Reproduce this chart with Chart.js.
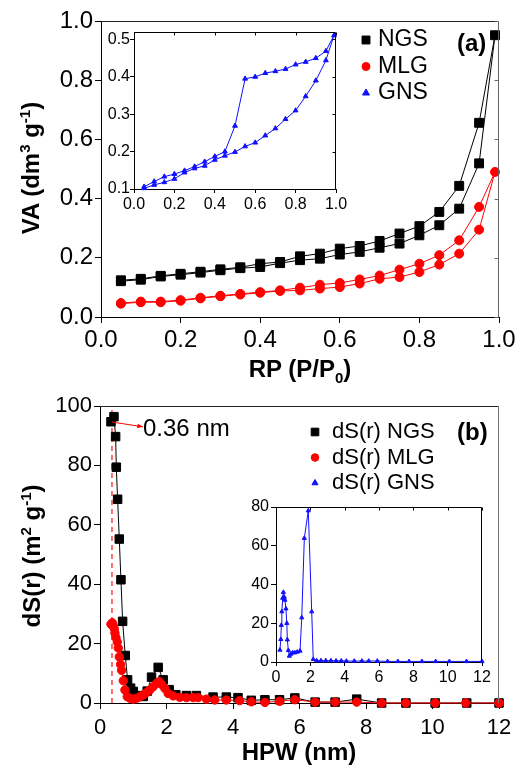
<!DOCTYPE html>
<html>
<head>
<meta charset="utf-8">
<script src="https://cdn.jsdelivr.net/npm/chart.js@4.4.0/dist/chart.umd.min.js"></script>
<style>
  body { margin: 0; background: #fff; }
  #wrap { position: relative; width: 524px; height: 767px; font-family: "Liberation Sans", Arial, sans-serif; }
  canvas { position: absolute; }
  .lbl { position: absolute; white-space: nowrap; color: #000; line-height: 1; transform: translate(0, -50%); }
  .title { font-weight: bold; font-size: 24px; transform: translate(-50%, -50%); }
  .rot { transform: translate(-50%, -50%) rotate(-90deg); }
  sup, sub { font-size: 15px; line-height: 0; }
</style>
</head>
<body>
<div id="wrap">
  <canvas id="cA" width="524" height="390" style="left:0;top:0;width:524px;height:390px"></canvas>
  <canvas id="cAi" width="260" height="203" style="left:95px;top:12px;width:260px;height:203px"></canvas>
  <canvas id="cB" width="524" height="377" style="left:0;top:390px;width:524px;height:377px"></canvas>
  <canvas id="cBi" width="260" height="200" style="left:240px;top:485px;width:260px;height:200px"></canvas>

  <div class="lbl title rot" style="left:31px;top:168px">VA (dm<sup>3</sup> g<sup>-1</sup>)</div>
  <div class="lbl title" style="left:300px;top:369px">RP (P/P<sub>0</sub>)</div>
  <div class="lbl" style="left:457px;top:43px;font-size:24px;font-weight:bold">(a)</div>

  <div class="lbl title rot" style="left:32px;top:556px">dS(r) (m<sup>2</sup> g<sup>-1</sup>)</div>
  <div class="lbl title" style="left:299px;top:752px">HPW (nm)</div>
  <div class="lbl" style="left:457px;top:432px;font-size:24px;font-weight:bold">(b)</div>
  <div class="lbl" style="left:143px;top:428px;font-size:24px">0.36 nm</div>
</div>
<script>
const FONT = '"Liberation Sans", Arial, sans-serif';

// (a) isotherms: relative pressure and volume adsorbed (adsorption / desorption branches)
const rp = [0.05, 0.1, 0.15, 0.2, 0.25, 0.3, 0.35, 0.4, 0.45, 0.5, 0.55, 0.6, 0.65, 0.7, 0.75, 0.8, 0.85, 0.9, 0.95, 0.99];
const ngsAds = [0.121, 0.126, 0.137, 0.143, 0.150, 0.158, 0.165, 0.169, 0.182, 0.192, 0.197, 0.211, 0.220, 0.234, 0.248, 0.276, 0.310, 0.366, 0.519, 0.952];
const ngsDes = [0.124, 0.129, 0.139, 0.146, 0.153, 0.161, 0.168, 0.180, 0.186, 0.205, 0.214, 0.231, 0.240, 0.257, 0.282, 0.307, 0.355, 0.443, 0.656, 0.952];
const mlgAds = [0.045, 0.050, 0.050, 0.055, 0.063, 0.070, 0.076, 0.082, 0.088, 0.090, 0.096, 0.101, 0.113, 0.129, 0.135, 0.152, 0.177, 0.214, 0.295, 0.490];
const mlgDes = [0.047, 0.052, 0.052, 0.057, 0.065, 0.072, 0.078, 0.084, 0.090, 0.099, 0.109, 0.115, 0.127, 0.140, 0.160, 0.180, 0.209, 0.259, 0.372, 0.490];
const gnsAds = [0.102, 0.111, 0.118, 0.127, 0.144, 0.155, 0.162, 0.178, 0.189, 0.199, 0.214, 0.224, 0.243, 0.262, 0.287, 0.310, 0.348, 0.390, 0.444, 0.511];
const gnsDes = [0.106, 0.120, 0.133, 0.140, 0.149, 0.160, 0.173, 0.187, 0.200, 0.269, 0.395, 0.400, 0.410, 0.415, 0.421, 0.433, 0.440, 0.450, 0.469, 0.511];

// (b) pore size distributions
const hpwNgs = [0.33, 0.42, 0.47, 0.49, 0.53, 0.58, 0.63, 0.68, 0.76, 0.83, 0.92, 1.0, 1.15, 1.3, 1.42, 1.55, 1.75, 1.9, 2.08, 2.28, 2.6, 2.9, 3.4, 3.8, 4.15, 4.55, 4.96, 5.4, 5.86, 6.47, 7.07, 7.72, 8.47, 9.2, 10.08, 11.03, 12.0];
const dsNgs = [94.7, 96.4, 89.7, 79.4, 68.6, 55.2, 41.5, 27.5, 16.0, 7.8, 5.0, 3.9, 2.5, 2.2, 4.0, 8.7, 12.0, 7.8, 4.5, 2.8, 2.5, 2.5, 2.0, 2.0, 1.8, 0.9, 1.1, 1.1, 1.7, 0.3, 0.3, 1.3, 0, 0, 0, 0, 0];
const hpwMlg = [0.33, 0.37, 0.40, 0.43, 0.45, 0.48, 0.52, 0.55, 0.58, 0.62, 0.65, 0.70, 0.75, 0.82, 0.90, 1.0, 1.1, 1.2, 1.3, 1.4, 1.5, 1.6, 1.7, 1.78, 1.85, 1.95, 2.05, 2.2, 2.4, 2.6, 2.8, 2.95, 3.2, 3.45, 3.8, 4.2, 4.55, 4.96, 5.4, 5.86, 6.47, 7.07, 7.72, 8.47, 9.2, 10.08, 11.0, 12.0];
const dsMlg = [26.5, 27, 26, 25, 23.5, 22, 20.5, 18.5, 15.5, 13, 11, 7.5, 4.4, 2.1, 1.6, 1.3, 1.6, 2.1, 2.7, 3.5, 4.4, 5.5, 6.6, 7.2, 6.3, 4.9, 3.2, 2.4, 1.9, 1.8, 1.8, 1.8, 1.3, 1.0, 1.0, 0.8, 0.4, 0.2, 0.6, 1.1, 0.3, 0.3, 0.3, 0, 0, 0, 0, 0];
const hpwGns = [0.23, 0.28, 0.31, 0.34, 0.39, 0.43, 0.48, 0.52, 0.58, 0.63, 0.66, 0.72, 0.78, 0.86, 0.97, 1.1, 1.24, 1.4, 1.5, 1.65, 1.88, 2.08, 2.17, 2.37, 2.62, 2.9, 3.2, 3.5, 3.8, 4.1, 4.56, 5.0, 5.4, 5.9, 6.5, 7.1, 7.75, 8.5, 9.3, 10.1, 11.1, 12.0];
const dsGns = [6.2, 11.7, 19, 26, 33, 36, 33.5, 32, 27.5, 20, 11.5, 6, 3.1, 4.1, 4.8, 4.8, 5.2, 5.7, 22.9, 63.9, 78.1, 26, 1.4, 0.7, 0.7, 0.7, 0.7, 0.6, 0.6, 0.5, 0.5, 0.5, 0.5, 0.5, 0.3, 0.3, 0.3, 0.3, 0.3, 0.3, 0.3, 0.3];

// annotation in (b): most probable pore width
const peakWidth = 0.36;
const arrowFrom = [0.36, 94.6];
const arrowTo = [1.29, 93.0];

function loop(xs, up, down) {
  const pts = xs.map((x, i) => ({ x: x, y: up[i] }));
  for (let i = xs.length - 2; i >= 0; i--) pts.push({ x: xs[i], y: down[i] });
  return pts;
}
function pairs(xs, ys) {
  return xs.map((x, i) => ({ x: x, y: ys[i] }));
}

function series(label, pts, color, style, r, order) {
  return {
    label: label, data: pts, showLine: true,
    borderColor: color, backgroundColor: color, borderWidth: 1,
    pointStyle: style, pointRadius: r, pointHoverRadius: r, pointBorderWidth: 1,
    clip: false, order: order || 0
  };
}

function axis(min, max, step, size, tickLen, pad, dec, fit) {
  return {
    type: 'linear', min: min, max: max,
    ticks: {
      stepSize: step, includeBounds: false, autoSkip: false, maxRotation: 0,
      color: '#000', padding: pad, font: { family: FONT, size: size },
      callback: v => v.toFixed(dec)
    },
    grid: { drawOnChartArea: false, drawTicks: true, tickLength: tickLen, color: '#000', tickWidth: 1 },
    border: { display: true, color: '#000', width: 1 },
    afterFit: fit
  };
}

function makeFrame(o) {
  return {
    id: 'frame',
    afterDraw(chart) {
      const { ctx, chartArea: a, scales } = chart;
      const top = Math.round(a.top) + 0.5, right = Math.round(a.right) - 0.5;
      ctx.save();
      ctx.lineWidth = 1;
      ctx.strokeStyle = o.top;
      ctx.beginPath(); ctx.moveTo(a.left, top); ctx.lineTo(right, top); ctx.stroke();
      ctx.strokeStyle = o.right;
      ctx.beginPath(); ctx.moveTo(right, top); ctx.lineTo(right, a.bottom); ctx.stroke();
      if (o.tickRight) {
        scales.y.ticks.forEach(t => {
          const y = Math.round(scales.y.getPixelForValue(t.value)) + 0.5;
          ctx.beginPath(); ctx.moveTo(right, y); ctx.lineTo(right - o.len, y); ctx.stroke();
        });
      }
      if (o.tickTop) {
        ctx.strokeStyle = o.top;
        scales.x.ticks.forEach(t => {
          const x = Math.round(scales.x.getPixelForValue(t.value)) + 0.5;
          ctx.beginPath(); ctx.moveTo(x, top); ctx.lineTo(x, top + o.len); ctx.stroke();
        });
      }
      ctx.restore();
    }
  };
}

function makeKey(items, x, y, dy, tx, size) {
  return {
    id: 'key',
    afterDraw(chart) {
      const ctx = chart.ctx;
      ctx.save();
      ctx.font = size + 'px ' + FONT;
      ctx.textBaseline = 'middle';
      items.forEach((it, i) => {
        const yy = y + i * dy;
        ctx.fillStyle = it.color; ctx.strokeStyle = it.color; ctx.lineWidth = 1;
        Chart.helpers.drawPoint(ctx, { pointStyle: it.style, radius: it.r, rotation: 0, borderWidth: 1 }, x, yy);
        ctx.fillStyle = '#000';
        ctx.fillText(it.label, tx, yy);
      });
      ctx.restore();
    }
  };
}

const arrowPlugin = {
  id: 'arrow',
  afterDraw(chart) {
    const { ctx, scales } = chart;
    const x0 = scales.x.getPixelForValue(arrowFrom[0]), y0 = scales.y.getPixelForValue(arrowFrom[1]);
    const x1 = scales.x.getPixelForValue(arrowTo[0]), y1 = scales.y.getPixelForValue(arrowTo[1]);
    const ang = Math.atan2(y1 - y0, x1 - x0);
    ctx.save();
    ctx.strokeStyle = '#ff0000'; ctx.fillStyle = '#ff0000'; ctx.lineWidth = 1;
    ctx.beginPath(); ctx.moveTo(x0, y0); ctx.lineTo(x1, y1); ctx.stroke();
    ctx.beginPath();
    ctx.moveTo(x1, y1);
    ctx.lineTo(x1 - 6 * Math.cos(ang - 0.4), y1 - 6 * Math.sin(ang - 0.4));
    ctx.lineTo(x1 - 6 * Math.cos(ang + 0.4), y1 - 6 * Math.sin(ang + 0.4));
    ctx.closePath(); ctx.fill();
    ctx.restore();
  }
};

const base = {
  responsive: false, animation: false, events: [],
  plugins: { legend: { display: false }, tooltip: { enabled: false } }
};

const BLACK = '#000000', RED = '#ff0000', BLUE = '#1010ff';

// (a) main
new Chart(document.getElementById('cA'), {
  type: 'scatter',
  data: {
    datasets: [
      series('NGS', loop(rp, ngsAds, ngsDes), BLACK, 'rect', 6.3, 1),
      series('MLG', loop(rp, mlgAds, mlgDes), RED, 'circle', 4.5, 0)
    ]
  },
  options: Object.assign({}, base, {
    layout: { padding: { top: 21, right: 25, left: 0, bottom: 0 } },
    scales: {
      x: axis(0, 1, 0.2, 24, 6, 3, 1, s => { s.height = 73; }),
      y: axis(0, 1, 0.2, 24, 6, 2, 1, s => { s.width = 101; })
    }
  }),
  plugins: [
    makeFrame({ top: '#222', right: '#666', tickRight: true, len: 4 }),
    makeKey([
      { label: 'NGS', style: 'rect', r: 5.6, color: BLACK },
      { label: 'MLG', style: 'circle', r: 4, color: RED },
      { label: 'GNS', style: 'triangle', r: 4, color: BLUE }
    ], 366, 40, 26.5, 378, 23)
  ]
});

// (a) inset: GNS isotherm
new Chart(document.getElementById('cAi'), {
  type: 'scatter',
  data: { datasets: [series('GNS', loop(rp, gnsAds, gnsDes), BLUE, 'triangle', 2.8)] },
  options: Object.assign({}, base, {
    layout: { padding: { top: 20, right: 19, left: 0, bottom: 0 } },
    scales: {
      x: axis(0, 1, 0.2, 16, 4, 2, 1, s => { s.height = 26; }),
      y: axis(0.1, 0.52, 0.1, 16, 4, 0, 1, s => { s.width = 39; })
    }
  }),
  plugins: [makeFrame({ top: '#000', right: '#000', tickRight: true, tickTop: true, len: 3 })]
});

// (b) main
new Chart(document.getElementById('cB'), {
  type: 'scatter',
  data: {
    datasets: [
      Object.assign(series('peak', [{ x: peakWidth, y: 0 }, { x: peakWidth, y: 100 }], '#ff4040', 'circle', 0, 5),
        { borderDash: [5, 4], borderWidth: 1.5 }),
      series('dS(r) NGS', pairs(hpwNgs, dsNgs), BLACK, 'rect', 6, 2),
      series('dS(r) MLG', pairs(hpwMlg, dsMlg), RED, 'circle', 4.2, 1)
    ]
  },
  options: Object.assign({}, base, {
    layout: { padding: { top: 16, right: 25, left: 0, bottom: 0 } },
    scales: {
      x: axis(0, 12, 2, 22, 6, 6, 0, s => { s.height = 64; }),
      y: axis(0, 100, 20, 22, 6, 2, 0, s => { s.width = 100; })
    }
  }),
  plugins: [
    makeFrame({ top: '#222', right: '#777', len: 4 }),
    arrowPlugin,
    makeKey([
      { label: 'dS(r) NGS', style: 'rect', r: 5.4, color: BLACK },
      { label: 'dS(r) MLG', style: 'circle', r: 3.8, color: RED },
      { label: 'dS(r) GNS', style: 'triangle', r: 3.5, color: BLUE }
    ], 315, 42, 25.5, 332, 22)
  ]
});

// (b) inset: GNS distribution
new Chart(document.getElementById('cBi'), {
  type: 'scatter',
  data: { datasets: [series('dS(r) GNS', pairs(hpwGns, dsGns), BLUE, 'triangle', 2.4)] },
  options: Object.assign({}, base, {
    layout: { padding: { top: 22, right: 18, left: 0, bottom: 0 } },
    scales: {
      x: axis(0, 12, 2, 16, 4, 2, 0, s => { s.height = 23; }),
      y: axis(0, 80, 20, 16, 5, 2, 0, s => { s.width = 36; })
    }
  }),
  plugins: [makeFrame({ top: '#000', right: '#000', tickTop: true, len: 3 })]
});
</script>
</body>
</html>
